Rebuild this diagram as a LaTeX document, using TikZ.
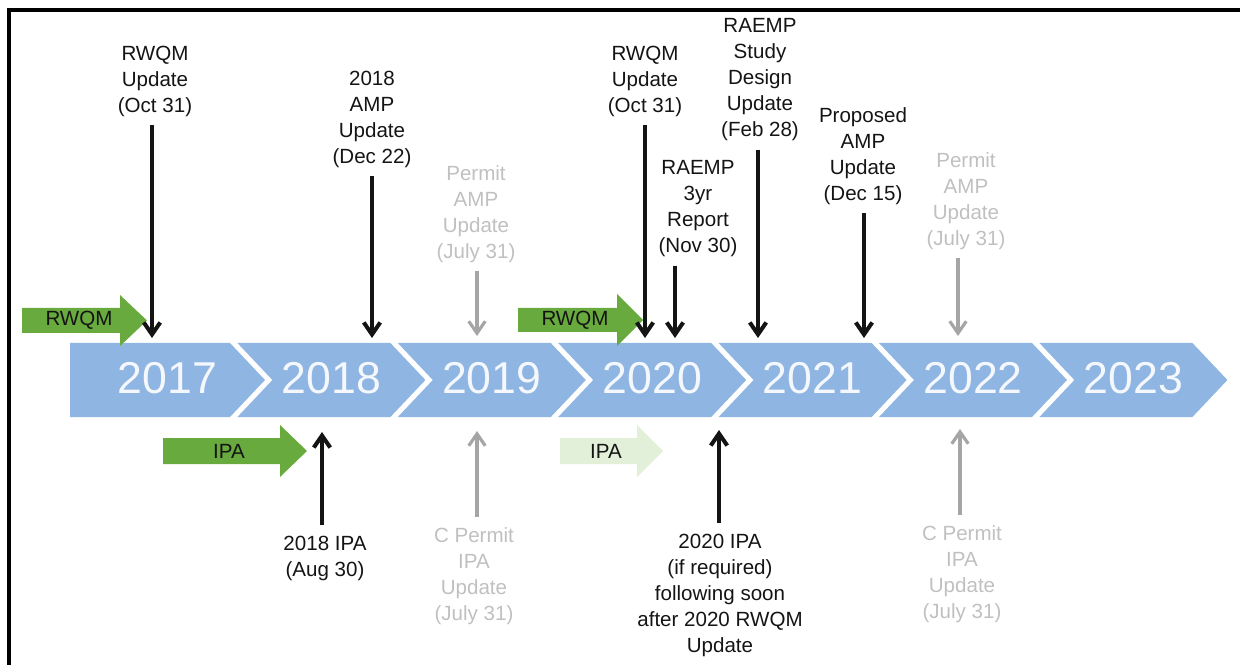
\documentclass[tikz,border=0pt]{standalone}
\usepackage{fontspec}
\setmainfont{Liberation Sans}
\usetikzlibrary{arrows.meta, positioning, calc}

\definecolor{bandblue}{RGB}{143,181,227}
\definecolor{yeartxt}{RGB}{244,247,252}
\definecolor{grn}{RGB}{104,170,62}
\definecolor{palegrn}{RGB}{226,240,217}
\definecolor{fadetxt}{RGB}{192,192,192}
\definecolor{fadearr}{RGB}{165,165,165}
\definecolor{ink}{RGB}{20,20,20}

\begin{document}
\begin{tikzpicture}[x=0.02cm, y=-0.02cm,
  lbl/.style={align=center, inner sep=0pt, font=\fontsize{11.7}{14.8}\selectfont, text=ink},
  fade/.style={lbl, text=fadetxt},
  yr/.style={inner sep=0pt, font=\fontsize{25.4}{28}\selectfont, text=yeartxt},
  evt/.style={-{Straight Barb[length=2.4mm,width=3.3mm]}, line width=2.3pt, draw=ink},
  fevt/.style={evt, draw=fadearr, line width=1.8pt},
  blk/.style={fill=grn},
  pblk/.style={fill=palegrn}
]
\useasboundingbox (0,0) rectangle (1240,665);

% ----- Cadre -----
\draw[line width=2.3pt] (9,665) -- (9,10) -- (1240,10);

% ----- Bande des annees -----
\foreach \i/\yr in {0/2017,1/2018,2/2019,3/2020,4/2021,5/2022,6/2023}{
  \pgfmathsetmacro{\R}{230+160.4*\i}
  \pgfmathsetmacro{\L}{\i==0 ? 70 : \R-153}
  \pgfmathsetmacro{\N}{\i==0 ? 70 : \L+35}
  \fill[bandblue] (\L,343) -- (\R,343) -- (\R+35,380) -- (\R,417) -- (\L,417) -- (\N,380) -- cycle;
  \node[yr] (y\yr) at ({(\L+\R)/2+17.5},378) {\yr};
}

% ----- Fleches vertes -----
\fill[blk] (22,308) -- (120,308) -- (120,295) -- (147,320.5) -- (120,346) -- (120,333) -- (22,333) -- cycle;
\node[lbl] (rwqmA) at (79,320.5) {RWQM};
\fill[blk] (163,438) -- (280,438) -- (280,425) -- (307,451) -- (280,477) -- (280,464) -- (163,464) -- cycle;
\node[lbl] (ipaA) at (229,451) {IPA};
\fill[blk] (518,308) -- (617,308) -- (617,294) -- (643,320) -- (617,346) -- (617,332) -- (518,332) -- cycle;
\node[lbl] (rwqmB) at (575,320) {RWQM};
\fill[pblk] (560,438) -- (637,438) -- (637,425) -- (663,451) -- (637,477) -- (637,464) -- (560,464) -- cycle;
\node[lbl] (ipaB) at (606,451) {IPA};

% ----- Evenements au-dessus -----
\node[lbl] (e1) at (155,81) {RWQM\\Update\\(Oct 31)};
\node[lbl] (e2) at (372,119) {2018\\AMP\\Update\\(Dec 22)};
\node[fade] (e3) at (476,214) {Permit\\AMP\\Update\\(July 31)};
\node[lbl] (e4) at (645,81) {RWQM\\Update\\(Oct 31)};
\node[lbl] (e5) at (698,209) {RAEMP\\3yr\\Report\\(Nov 30)};
\node[lbl] (e6) at (760,80) {RAEMP\\Study\\Design\\Update\\(Feb 28)};
\node[lbl] (e7) at (863,156) {Proposed\\AMP\\Update\\(Dec 15)};
\node[fade] (e8) at (966,201) {Permit\\AMP\\Update\\(July 31)};

\coordinate (t1) at (152,338);
\coordinate (t2) at (372,338);
\coordinate (t3) at (477,336);
\coordinate (t4) at (645,338);
\coordinate (t5) at (675,338);
\coordinate (t6) at (758,338);
\coordinate (t7) at (864,338);
\coordinate (t8) at (958,336);

\foreach \k in {1,2,4,5,6,7}
  \draw[evt, shorten <=0.16cm] (t\k |- e\k.south) -- (t\k);
\foreach \k in {3,8}
  \draw[fevt, shorten <=0.16cm] (t\k |- e\k.south) -- (t\k);

% ----- Evenements au-dessous -----
\node[lbl] (e9) at (325,558) {2018 IPA\\(Aug 30)};
\node[fade] (e10) at (474,576) {C Permit\\IPA\\Update\\(July 31)};
\node[lbl] (e11) at (720,595) {2020 IPA\\(if required)\\following soon\\after 2020 RWQM\\Update};
\node[fade] (e12) at (962,574) {C Permit\\IPA\\Update\\(July 31)};

\coordinate (t9) at (322,432);
\coordinate (t10) at (477,431);
\coordinate (t11) at (719,430);
\coordinate (t12) at (960,429);

\foreach \k in {9,11}
  \draw[evt, shorten <=0.2cm] (t\k |- e\k.north) -- (t\k);
\foreach \k in {10,12}
  \draw[fevt, shorten <=0.2cm] (t\k |- e\k.north) -- (t\k);

\end{tikzpicture}
\end{document}
